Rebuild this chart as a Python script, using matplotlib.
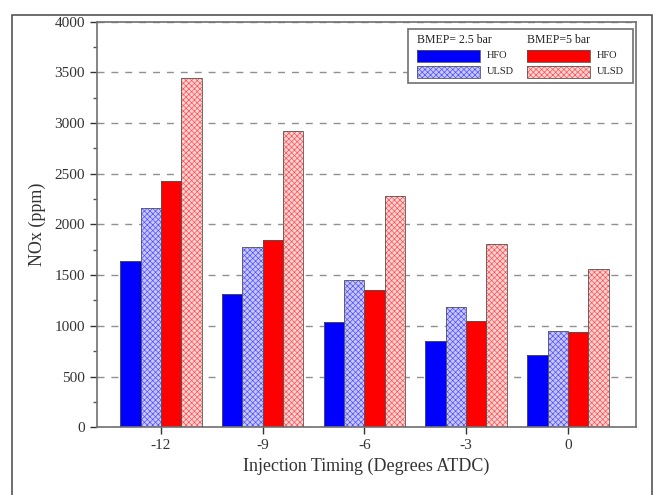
import numpy as np
import matplotlib
matplotlib.use("Agg")
import matplotlib.pyplot as plt
from matplotlib.patches import Rectangle

plt.rcParams["font.family"] = ["Liberation Serif", "DejaVu Serif"]
plt.rcParams["hatch.linewidth"] = 0.5

timing = ["-12", "-9", "-6", "-3", "0"]
hfo_25 = [1640, 1310, 1040, 850, 710]
ulsd_25 = [2165, 1775, 1450, 1190, 950]
hfo_5 = [2425, 1850, 1350, 1050, 940]
ulsd_5 = [3450, 2920, 2280, 1810, 1560]

series = [
    (hfo_25, "#0000ff", None, "#0000ff"),
    (ulsd_25, "#c8c8ff", "xxxxxx", "#5050ff"),
    (hfo_5, "#ff0000", None, "#ff0000"),
    (ulsd_5, "#ffd4d4", "xxxxxx", "#ff5050"),
]

fig = plt.figure(figsize=(6.55, 4.95), dpi=100)
ax = fig.add_axes([0.148, 0.137, 0.823, 0.819])

x = np.arange(len(timing))
w = 0.2
for i, (vals, fc, hatch, hc) in enumerate(series):
    pos = x + (i - 1.5) * w
    ax.bar(pos, vals, w, color=fc, hatch=hatch, edgecolor=hc, linewidth=0, zorder=2)
    ax.bar(pos, vals, w, fill=False, edgecolor="#555555", linewidth=0.6, zorder=3)

ax.set_xlim(-0.63, 4.67)
ax.set_ylim(0, 4000)
ax.set_xticks(x)
ax.set_xticklabels(timing)
ax.set_yticks(np.arange(0, 4001, 500))
ax.set_yticks(np.arange(250, 4000, 500), minor=True)
ax.tick_params(axis="both", labelsize=11, colors="#333333", direction="out", length=5, width=1)
ax.tick_params(axis="y", which="minor", length=3, width=1, colors="#555555")
ax.yaxis.grid(True, linestyle=(0, (5, 5)), color="#909090", linewidth=1, zorder=0)
ax.set_axisbelow(True)
for s in ax.spines.values():
    s.set_color("#707070")
    s.set_linewidth(1.2)
ax.set_ylabel("NOx (ppm)", fontsize=13, color="#333333", labelpad=6)
ax.set_xlabel("Injection Timing (Degrees ATDC)", fontsize=13, color="#333333", labelpad=4)

# legend drawn by hand: two columns with a BMEP heading each
ax.add_patch(Rectangle((0.577, 0.849), 0.417, 0.134, transform=ax.transAxes,
                       facecolor="white", edgecolor="#707070", linewidth=1.2, zorder=5))
titles = ["BMEP= 2.5 bar", "BMEP=5 bar"]
cols = [0.593, 0.797]
for c, (title, pair) in enumerate(zip(titles, [series[:2], series[2:]])):
    x0 = cols[c]
    ax.text(x0, 0.956, title, transform=ax.transAxes, fontsize=8.5,
            va="center", ha="left", color="#222222", zorder=6)
    for r, ((vals, fc, hatch, hc), lab) in enumerate(zip(pair, ["HFO", "ULSD"])):
        y0 = 0.916 - r * 0.039
        ax.add_patch(Rectangle((x0, y0 - 0.015), 0.118, 0.03, transform=ax.transAxes,
                               facecolor=fc, hatch=hatch, edgecolor=hc, linewidth=0, zorder=6))
        ax.add_patch(Rectangle((x0, y0 - 0.015), 0.118, 0.03, transform=ax.transAxes,
                               fill=False, edgecolor="#555555", linewidth=0.6, zorder=7))
        ax.text(x0 + 0.13, y0, lab, transform=ax.transAxes, fontsize=7.5,
                va="center", ha="left", color="#222222", zorder=6)

# outer frame around the figure
fig.patches.append(Rectangle((0.018, -0.05), 0.977, 1.02, transform=fig.transFigure,
                             fill=False, edgecolor="#555555", linewidth=1.2))

fig.savefig("out.png", dpi=100)
